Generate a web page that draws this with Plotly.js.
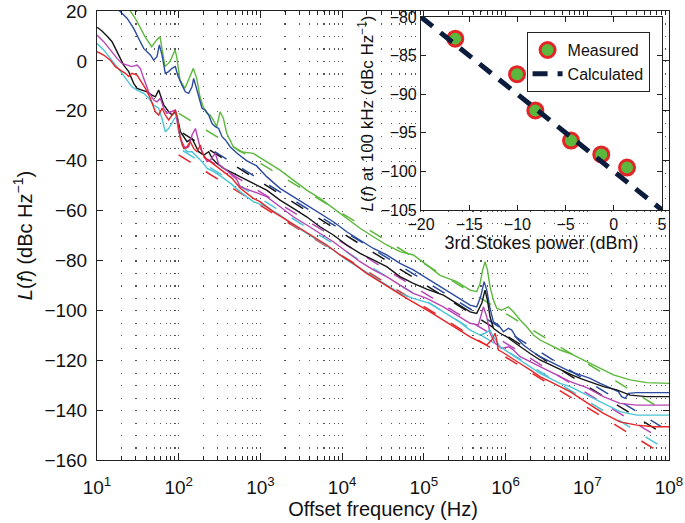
<!DOCTYPE html>
<html>
<head>
<meta charset="utf-8">
<script src="https://cdn.plot.ly/plotly-3.0.1.min.js"></script>
<style>
  body { margin: 0; background: #fff; }
  #chart { width: 685px; height: 523px; }
</style>
</head>
<body>
<div id="chart"></div>
<script>
// offset frequency given as log10(Hz), phase noise in dBc/Hz
const greenLogF = [1.35, 1.40, 1.48, 1.587, 1.669, 1.73, 1.771, 1.79, 1.832, 1.893, 1.955, 1.975, 2.016, 2.077, 2.159, 2.179, 2.22, 2.26, 2.30, 2.343, 2.383, 2.424, 2.465, 2.506, 2.546, 2.587, 2.668, 2.75, 2.913, 3.076, 3.24, 3.403, 3.566, 3.729, 3.892, 4.056, 4.219, 4.382, 4.545, 4.708, 4.871, 5.035, 5.198, 5.402, 5.566, 5.647, 5.688, 5.72, 5.749, 5.778, 5.81, 5.851, 5.892, 5.953, 6.035, 6.096, 6.178, 6.259, 6.341, 6.422, 6.545, 6.667, 6.79, 6.912, 7.034, 7.157, 7.32, 7.524, 7.728, 8.0];
const greenDb = [24, 20.4, 16.4, 9.7, 5.7, 8.4, 9.7, 6.4, -2.3, -0.3, 4.4, 1.7, -7.7, -11.0, -5.0, -3.0, -7.0, -14.4, -18.4, -21.0, -21.7, -23.7, -26.4, -20.4, -23.0, -29.0, -34.4, -36.4, -37.1, -40.4, -43.8, -47.8, -51.8, -55.1, -59.1, -63.1, -67.1, -70.5, -73.8, -76.5, -77.8, -81.8, -86.0, -88.5, -91.9, -92.5, -89.2, -83.8, -80.5, -83.8, -90.5, -95.9, -99.2, -99.9, -98.6, -100.6, -103.9, -106.6, -109.9, -111.9, -113.9, -115.9, -117.3, -119.3, -121.3, -123.3, -125.9, -127.9, -129.0, -129.3];

const blueLogF = [1.22, 1.265, 1.367, 1.449, 1.51, 1.571, 1.653, 1.694, 1.734, 1.763, 1.796, 1.836, 1.877, 1.918, 1.959, 1.987, 2.04, 2.081, 2.122, 2.163, 2.183, 2.212, 2.244, 2.285, 2.326, 2.367, 2.408, 2.448, 2.489, 2.53, 2.571, 2.632, 2.714, 2.83, 2.95, 3.076, 3.24, 3.403, 3.566, 3.729, 3.892, 4.056, 4.219, 4.382, 4.545, 4.708, 4.871, 5.035, 5.239, 5.402, 5.566, 5.647, 5.696, 5.737, 5.77, 5.81, 5.851, 5.912, 5.974, 6.035, 6.076, 6.137, 6.218, 6.3, 6.422, 6.545, 6.667, 6.79, 6.912, 7.034, 7.157, 7.279, 7.38, 7.42, 7.463, 7.504, 7.606, 7.81, 8.0];
const blueDb = [24, 20.4, 17.1, 13.0, 9.0, 5.0, 2.4, 0.3, 1.7, 6.4, 2.35, -5.0, -4.3, -3.0, -2.3, -5.7, -9.7, -12.4, -13.0, -10.4, -7.0, -10.4, -15.0, -19.0, -19.7, -21.7, -25.1, -26.4, -27.1, -30.4, -31.7, -34.5, -37.0, -40.0, -42.0, -46.4, -51.1, -54.4, -57.8, -61.1, -64.5, -68.5, -71.8, -75.2, -77.8, -81.2, -83.8, -87.2, -91.2, -94.5, -97.9, -98.6, -94.5, -88.5, -91.9, -99.2, -104.6, -105.9, -108.6, -107.2, -107.9, -111.2, -113.9, -115.9, -118.6, -120.6, -122.6, -124.6, -125.9, -127.3, -129.3, -131.0, -132.6, -134.6, -135.3, -133.3, -133.0, -133.0, -133.0];

const blackLogF = [1.0, 1.061, 1.122, 1.184, 1.245, 1.286, 1.326, 1.388, 1.449, 1.49, 1.551, 1.612, 1.673, 1.714, 1.755, 1.775, 1.816, 1.877, 1.918, 1.959, 1.987, 2.02, 2.061, 2.102, 2.163, 2.204, 2.244, 2.306, 2.367, 2.408, 2.469, 2.55, 2.632, 2.75, 2.83, 2.913, 3.076, 3.24, 3.403, 3.566, 3.729, 3.892, 4.056, 4.219, 4.382, 4.545, 4.708, 4.871, 5.035, 5.239, 5.402, 5.566, 5.647, 5.708, 5.749, 5.778, 5.81, 5.851, 5.933, 6.015, 6.096, 6.178, 6.3, 6.422, 6.545, 6.667, 6.79, 6.912, 7.034, 7.198, 7.36, 7.524, 7.728, 8.0];
const blackDb = [13.5, 12.0, 10.0, 7.7, 3.7, 1.0, -1.7, -4.3, -9.0, -11.0, -11.7, -12.4, -13.7, -14.4, -11.7, -13.7, -17.7, -20.4, -21.7, -20.4, -23.1, -28.4, -30.4, -32.4, -31.1, -33.7, -36.4, -37.8, -36.4, -39.1, -41.1, -43.1, -44.4, -46.4, -47.8, -49.1, -51.8, -55.8, -59.1, -62.5, -66.5, -69.8, -73.8, -77.2, -79.8, -82.5, -86.5, -89.2, -91.5, -93.9, -97.2, -100.6, -101.2, -97.2, -91.9, -95.9, -102.6, -107.2, -109.2, -110.6, -112.6, -114.6, -117.3, -119.9, -121.9, -123.9, -125.6, -127.3, -128.6, -130.6, -131.9, -134.0, -134.6, -134.6];

const magentaLogF = [1.0, 1.082, 1.163, 1.245, 1.306, 1.367, 1.428, 1.49, 1.53, 1.571, 1.632, 1.694, 1.734, 1.775, 1.816, 1.857, 1.918, 1.959, 2.0, 2.04, 2.081, 2.122, 2.163, 2.204, 2.224, 2.265, 2.306, 2.347, 2.387, 2.448, 2.49, 2.59, 2.71, 2.75, 2.913, 3.076, 3.24, 3.403, 3.566, 3.729, 3.892, 4.056, 4.219, 4.382, 4.545, 4.708, 4.871, 5.035, 5.239, 5.402, 5.566, 5.667, 5.729, 5.77, 5.81, 5.872, 5.953, 6.035, 6.096, 6.178, 6.3, 6.422, 6.545, 6.667, 6.79, 6.994, 7.198, 7.4, 7.606, 8.0];
const magentaDb = [10.4, 7.7, 4.4, 1.0, -1.0, -1.7, -2.3, -1.7, -3.0, -7.0, -12.4, -15.7, -16.4, -15.0, -19.0, -21.0, -20.4, -19.7, -28.4, -32.4, -35.1, -34.4, -29.7, -27.1, -29.7, -35.1, -37.8, -40.4, -39.8, -37.0, -41.5, -44.0, -47.5, -50.4, -52.4, -54.4, -58.5, -62.5, -65.8, -69.1, -72.5, -76.5, -80.5, -83.8, -86.5, -89.9, -93.2, -95.2, -98.6, -101.9, -105.2, -105.9, -98.6, -102.6, -109.2, -113.2, -115.3, -114.6, -115.9, -118.6, -120.6, -122.6, -124.6, -126.6, -128.6, -131.0, -134.6, -137.3, -138.0, -138.0];

const cyanLogF = [1.0, 1.082, 1.163, 1.245, 1.306, 1.367, 1.428, 1.49, 1.571, 1.632, 1.694, 1.755, 1.796, 1.836, 1.877, 1.938, 1.979, 2.0, 2.04, 2.102, 2.163, 2.224, 2.285, 2.347, 2.428, 2.55, 2.65, 2.75, 2.913, 3.076, 3.24, 3.403, 3.566, 3.729, 3.892, 4.056, 4.219, 4.382, 4.545, 4.708, 4.871, 5.076, 5.239, 5.402, 5.566, 5.688, 5.749, 5.81, 5.851, 5.933, 6.055, 6.178, 6.3, 6.422, 6.545, 6.667, 6.79, 6.994, 7.198, 7.40, 7.606, 8.0];
const cyanDb = [7.0, 4.4, 1.0, -2.3, -5.0, -7.7, -10.4, -11.7, -13.0, -15.0, -17.7, -19.0, -23.1, -28.4, -27.1, -23.7, -21.7, -27.1, -33.7, -36.4, -36.4, -38.4, -40.4, -43.1, -44.4, -47.0, -49.5, -52.4, -56.4, -58.5, -61.8, -65.8, -69.1, -72.5, -75.8, -79.8, -83.2, -86.5, -89.9, -93.2, -95.2, -97.2, -100.6, -103.9, -107.9, -109.9, -109.2, -107.9, -110.6, -114.6, -117.3, -119.9, -122.6, -125.3, -127.3, -129.3, -130.6, -134.0, -137.3, -140.6, -142.0, -142.0];

const redLogF = [1.0, 1.082, 1.163, 1.224, 1.286, 1.347, 1.388, 1.428, 1.49, 1.53, 1.592, 1.653, 1.714, 1.755, 1.796, 1.836, 1.877, 1.918, 1.959, 1.979, 2.02, 2.061, 2.102, 2.143, 2.183, 2.224, 2.265, 2.285, 2.326, 2.387, 2.469, 2.55, 2.65, 2.75, 2.913, 2.995, 3.158, 3.321, 3.484, 3.648, 3.811, 3.974, 4.137, 4.3, 4.464, 4.627, 4.79, 5.076, 5.239, 5.402, 5.566, 5.688, 5.77, 5.831, 5.872, 5.892, 5.912, 5.953, 6.055, 6.178, 6.3, 6.422, 6.545, 6.667, 6.79, 6.994, 7.198, 7.40, 7.606, 7.81, 8.0];
const redDb = [3.7, 2.35, 0.3, -2.3, -3.7, -5.0, -6.3, -5.0, -5.7, -7.7, -11.0, -15.0, -20.4, -21.7, -19.0, -21.7, -23.7, -21.7, -19.7, -22.4, -31.1, -35.1, -34.4, -32.4, -35.1, -36.4, -33.7, -36.4, -39.1, -40.4, -42.4, -44.4, -47.0, -51.0, -55.1, -56.4, -60.5, -63.8, -67.1, -70.5, -73.8, -77.8, -81.2, -85.2, -88.5, -91.9, -95.2, -100.6, -103.9, -107.2, -110.6, -112.6, -113.9, -111.9, -109.2, -111.9, -115.9, -116.6, -118.6, -121.3, -123.9, -126.6, -128.6, -130.6, -132.6, -137.0, -141.3, -144.7, -146.0, -146.7, -146.7];

// calculated (dashed) lines: start / end
const calcGreenLogF = [2.0, 7.93], calcGreenDb = [-21.0, -140.0];
const calcBlueLogF = [2.44, 7.91], calcBlueDb = [-36.4, -146.7];
const calcBlackLogF = [2.05, 7.89], calcBlackDb = [-29.0, -148.7];
const calcMagentaLogF = [2.3, 7.89], calcMagentaDb = [-38.4, -151.3];
const calcCyanLogF = [2.05, 7.91], calcCyanDb = [-36.0, -154.7];
const calcRedLogF = [2.0, 7.91], calcRedDb = [-37.7, -157.4];

// inset: 3rd Stokes power vs L(f) at 100 kHz
const stokesPower = [-16.44, -10.04, -8.14, -4.44, -1.3, 1.37];
const measuredDb = [-82.8, -87.4, -92.1, -96.0, -97.8, -99.5];
const calcPower = [-20, 5];
const calcDb = [-80, -105];

const xTickVals = [1e1, 1e2, 1e3, 1e4, 1e5, 1e6, 1e7, 1e8];
const xTickText = ['10<sup>1</sup>', '10<sup>2</sup>', '10<sup>3</sup>', '10<sup>4</sup>', '10<sup>5</sup>', '10<sup>6</sup>', '10<sup>7</sup>', '10<sup>8</sup>'];

const colors = {
    green: '#5cb83c',
    blue: '#2a4b9f',
    black: '#161616',
    magenta: '#b844b4',
    cyan: '#4cc4d6',
    red: '#e42527'
};

const toHz = arr => arr.map(v => Math.pow(10, v));

let minorVals = [];
for (let d = 1; d < 8; d++) {
    for (let k = 2; k <= 9; k++) minorVals.push(k * Math.pow(10, d));
}

function solid(lf, db, col) {
    return { x: toHz(lf), y: db, mode: 'lines', type: 'scatter', showlegend: false, hoverinfo: 'skip',
        line: { color: col, width: 1.4 }, xaxis: 'x', yaxis: 'y' };
}
function dashed(lf, db, col) {
    return { x: toHz(lf), y: db, mode: 'lines', type: 'scatter', showlegend: false, hoverinfo: 'skip',
        line: { color: col, width: 1.5, dash: '14px,18px' }, xaxis: 'x', yaxis: 'y' };
}

let data = [
    dashed(calcGreenLogF, calcGreenDb, colors.green),
    dashed(calcBlueLogF, calcBlueDb, colors.blue),
    dashed(calcBlackLogF, calcBlackDb, colors.black),
    dashed(calcMagentaLogF, calcMagentaDb, colors.magenta),
    dashed(calcCyanLogF, calcCyanDb, colors.cyan),
    dashed(calcRedLogF, calcRedDb, colors.red),
    solid(greenLogF, greenDb, colors.green),
    solid(blueLogF, blueDb, colors.blue),
    solid(blackLogF, blackDb, colors.black),
    solid(magentaLogF, magentaDb, colors.magenta),
    solid(cyanLogF, cyanDb, colors.cyan),
    solid(redLogF, redDb, colors.red),
    {
        x: stokesPower, y: measuredDb, name: 'Measured', mode: 'markers', type: 'scatter',
        marker: { size: 15, color: '#5cb83c', line: { color: '#e42527', width: 3 } },
        xaxis: 'x2', yaxis: 'y2'
    },
    {
        x: calcPower, y: calcDb, name: 'Calculated', mode: 'lines', type: 'scatter',
        line: { color: '#0c1c3c', width: 5, dash: '15px,10px' },
        xaxis: 'x2', yaxis: 'y2'
    }
];

const fontFam = '"Liberation Sans", Arial, Helvetica, sans-serif';
const dotDash = '1.2px,11.27px';

let layout = {
    width: 685,
    height: 523,
    margin: { l: 97, r: 16, t: 11, b: 63 },
    paper_bgcolor: '#ffffff',
    plot_bgcolor: '#ffffff',
    font: { family: fontFam, size: 19, color: '#111' },
    showlegend: true,
    xaxis: {
        type: 'log', range: [1, 8],
        tickmode: 'array', tickvals: xTickVals, ticktext: xTickText,
        ticks: 'inside', ticklen: 7, tickcolor: '#222', ticklabelstandoff: 10,
        showline: true, linecolor: '#222', linewidth: 1, mirror: 'allticks',
        showgrid: true, gridcolor: '#555', gridwidth: 1.1, griddash: dotDash,
        zeroline: false,
        minor: { tickvals: minorVals, ticks: 'inside', ticklen: 4, tickcolor: '#222',
            showgrid: true, gridcolor: '#555', gridwidth: 1.1, griddash: dotDash },
        title: { text: 'Offset frequency (Hz)', font: { size: 20 }, standoff: 2 },
        tickfont: { size: 19 }
    },
    yaxis: {
        range: [-160, 20], tickmode: 'array', tickvals: [-160, -140, -120, -100, -80, -60, -40, -20, 0, 20],
        ticks: 'inside', ticklen: 6, tickcolor: '#222', ticklabelstandoff: 5,
        showline: true, linecolor: '#222', linewidth: 1, mirror: 'allticks',
        showgrid: false, zeroline: false,
        title: { text: '<i>L</i>(<i>f</i>) (dBc Hz<sup>−1</sup>)', font: { size: 20 }, standoff: 6 },
        tickfont: { size: 19 }
    },
    xaxis2: {
        domain: [0.5664, 0.9878], anchor: 'y2', range: [-20, 5],
        tickmode: 'array', tickvals: [-20, -15, -10, -5, 0, 5],
        ticks: 'inside', ticklen: 5, tickcolor: '#222',
        showline: true, linecolor: '#222', linewidth: 1, mirror: 'allticks',
        showgrid: false, zeroline: false,
        title: { text: '3rd Stokes power (dBm)', font: { size: 18 }, standoff: 3 },
        tickfont: { size: 16 }
    },
    yaxis2: {
        domain: [0.5568, 0.9866], anchor: 'x2', range: [-105, -80],
        tickmode: 'array', tickvals: [-105, -100, -95, -90, -85, -80],
        ticks: 'inside', ticklen: 5, tickcolor: '#222',
        showline: true, linecolor: '#222', linewidth: 1, mirror: 'allticks',
        showgrid: false, zeroline: false,
        title: { text: '<i>L</i>(<i>f</i>) at 100 kHz (dBc Hz<sup>−1</sup>)', font: { size: 17 }, standoff: 2 },
        tickfont: { size: 16 }
    },
    legend: {
        x: 0.751, y: 0.953, xanchor: 'left', yanchor: 'top',
        bgcolor: '#ffffff', bordercolor: '#222', borderwidth: 1,
        font: { size: 16, family: fontFam }, tracegroupgap: 0
    }
};

Plotly.newPlot('chart', data, layout, { staticPlot: true });
</script>
</body>
</html>
